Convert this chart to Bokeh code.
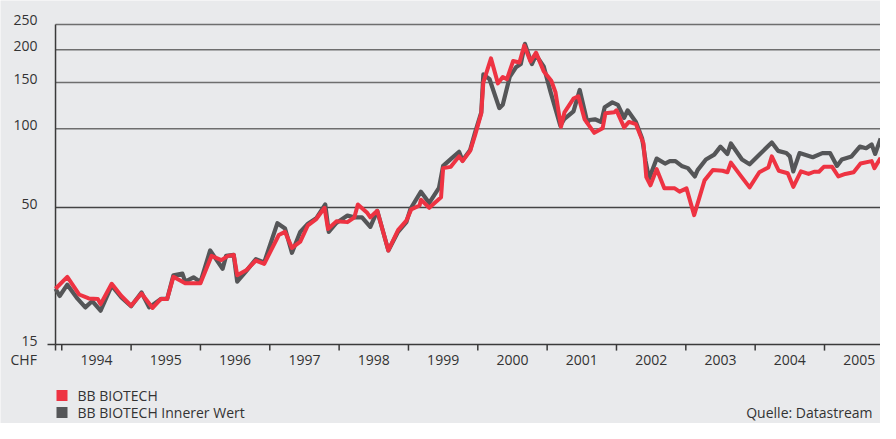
import math
from bokeh.plotting import figure
from bokeh.models import Label, Range1d, BoxAnnotation
from bokeh.core.properties import value
from bokeh.embed import file_html
from bokeh.resources import INLINE

# ---------------- data ----------------
bb_dates = [1993.91, 1994.08, 1994.25, 1994.39, 1994.52, 1994.56, 1994.72, 1994.86,
            1995.00, 1995.15, 1995.31, 1995.43, 1995.52, 1995.61, 1995.78, 1996.00,
            1996.16, 1996.30, 1996.40, 1996.48, 1996.53, 1996.66, 1996.80, 1996.92,
            1997.13, 1997.22, 1997.32, 1997.44, 1997.55, 1997.67, 1997.79, 1997.84,
            1997.96, 1998.12, 1998.22, 1998.27, 1998.40, 1998.45, 1998.55, 1998.71,
            1998.85, 1998.97, 1999.04, 1999.16, 1999.18, 1999.30, 1999.47, 1999.50,
            1999.61, 1999.73, 1999.78, 1999.89, 1999.96, 2000.05, 2000.08, 2000.19,
            2000.29, 2000.36, 2000.42, 2000.51, 2000.60, 2000.67, 2000.76, 2000.84,
            2000.95, 2001.06, 2001.12, 2001.20, 2001.25, 2001.38, 2001.45, 2001.54,
            2001.68, 2001.80, 2001.84, 2001.97, 2002.00, 2002.11, 2002.18, 2002.28,
            2002.39, 2002.43, 2002.49, 2002.58, 2002.69, 2002.84, 2002.91, 2003.01,
            2003.12, 2003.27, 2003.39, 2003.53, 2003.60, 2003.65, 2003.79, 2003.92,
            2004.06, 2004.19, 2004.24, 2004.34, 2004.47, 2004.55, 2004.66, 2004.77,
            2004.85, 2004.92, 2004.99, 2005.11, 2005.20, 2005.30, 2005.42, 2005.52,
            2005.68, 2005.72, 2005.81]
bb_values = [24.5, 27.2, 23.3, 22.5, 22.4, 21.4, 25.6, 23.0,
             21.1, 23.5, 20.7, 22.4, 22.4, 27.2, 25.7, 25.7,
             32.7, 31.5, 32.7, 33.0, 27.6, 28.8, 31.4, 30.5,
             39.3, 40.4, 35.1, 37.1, 42.8, 45.2, 49.9, 41.4,
             44.3, 44.0, 45.9, 51.4, 47.9, 45.9, 48.6, 34.3,
             41.0, 44.6, 49.2, 50.9, 53.6, 49.9, 54.7, 70.7,
             71.5, 78.4, 75.2, 82.3, 94.3, 114.2, 150.1, 185.5,
             148.9, 157.5, 154.4, 181.3, 178.9, 207.7, 180.4, 195.1,
             165.8, 152.3, 137.9, 101.7, 115.5, 130.3, 133.0, 108.6,
             96.4, 100.3, 114.5, 115.5, 117.5, 101.1, 106.1, 104.1,
             87.8, 65.3, 60.8, 70.1, 59.2, 59.2, 57.5, 59.2,
             46.8, 63.5, 69.5, 69.1, 68.2, 74.2, 66.2, 59.7,
             68.2, 71.1, 78.4, 69.1, 67.6, 60.0, 68.7, 67.2,
             68.5, 68.5, 71.5, 71.5, 65.7, 67.2, 68.2, 73.7,
             75.2, 70.7, 77.4]

nav_dates = [1993.91, 1993.97, 1994.08, 1994.23, 1994.34, 1994.44, 1994.56, 1994.72,
             1994.86, 1995.00, 1995.15, 1995.26, 1995.43, 1995.52, 1995.61, 1995.74,
             1995.78, 1995.90, 1996.00, 1996.14, 1996.32, 1996.37, 1996.48, 1996.53,
             1996.66, 1996.80, 1996.92, 1997.11, 1997.22, 1997.32, 1997.44, 1997.55,
             1997.67, 1997.80, 1997.85, 1997.96, 1998.12, 1998.22, 1998.33, 1998.45,
             1998.55, 1998.71, 1998.85, 1998.97, 1999.03, 1999.18, 1999.30, 1999.44,
             1999.50, 1999.63, 1999.73, 1999.78, 1999.89, 1999.96, 2000.05, 2000.08,
             2000.17, 2000.31, 2000.36, 2000.46, 2000.55, 2000.62, 2000.68, 2000.78,
             2000.84, 2000.95, 2001.05, 2001.19, 2001.25, 2001.38, 2001.47, 2001.58,
             2001.61, 2001.69, 2001.78, 2001.83, 2001.94, 2002.02, 2002.11, 2002.16,
             2002.28, 2002.37, 2002.42, 2002.47, 2002.58, 2002.70, 2002.77, 2002.85,
             2002.94, 2003.03, 2003.13, 2003.17, 2003.29, 2003.41, 2003.50, 2003.60,
             2003.65, 2003.81, 2003.92, 2004.07, 2004.24, 2004.33, 2004.45, 2004.50,
             2004.55, 2004.64, 2004.83, 2004.97, 2005.08, 2005.18, 2005.25, 2005.39,
             2005.51, 2005.60, 2005.68, 2005.73, 2005.81]
nav_values = [24.5, 23.0, 25.4, 22.4, 20.8, 22.0, 20.2, 25.2,
              22.7, 21.0, 23.7, 20.8, 22.4, 22.4, 27.6, 28.0,
              26.1, 27.1, 26.0, 34.3, 29.2, 32.7, 33.0, 26.1,
              28.6, 31.8, 30.9, 43.6, 41.6, 33.6, 40.4, 43.4,
              45.5, 51.4, 40.4, 43.7, 46.6, 45.9, 45.9, 42.2,
              48.6, 34.3, 40.4, 44.0, 49.5, 57.5, 52.1, 59.4,
              72.1, 77.4, 81.6, 75.6, 83.0, 96.7, 115.5, 161.1,
              154.4, 119.8, 123.3, 157.5, 171.5, 176.4, 210.6, 176.4,
              190.8, 172.9, 137.9, 102.6, 109.1, 116.5, 140.6, 105.5,
              107.9, 108.6, 106.1, 120.8, 126.0, 123.3, 110.0, 117.5,
              106.1, 91.7, 75.2, 64.4, 76.9, 73.6, 75.2, 75.2,
              72.1, 70.7, 65.7, 69.5, 76.3, 79.6, 85.4, 80.1,
              87.8, 76.3, 73.1, 80.1, 88.6, 82.3, 80.7, 78.4,
              68.7, 80.7, 77.8, 80.7, 80.7, 72.1, 76.3, 78.4,
              85.4, 84.2, 87.1, 80.1, 91.7]

years = [1994, 1995, 1996, 1997, 1998, 1999, 2000, 2001, 2002, 2003, 2004, 2005]
y_ticks = [15, 50, 100, 150, 200, 250]
grid_values = [50, 100, 150, 200, 250]
series_names = ["BB BIOTECH", "BB BIOTECH Innerer Wert"]
unit_label = "CHF"
source_label = "Quelle: Datastream"

# ---------------- styling ----------------
BG = "#E9EAEC"
RED = "#EE3342"
GREY = "#555658"
TXT = "#333333"
AXIS = "#3a3a3a"
FONT = "Open Sans"
FS = "14px"

W, H = 880, 423
axis_x = bb_dates[0]            # the value axis sits where the series start
y_min, y_max = y_ticks[0], y_ticks[-1]

p = figure(width=W, height=H,
           x_range=Range1d(1993.1165, 2005.8076), y_range=Range1d(7.50, 308.4),
           y_axis_type="log", output_backend="svg", toolbar_location=None,
           min_border=0, x_axis_location=None, y_axis_location=None)
p.background_fill_color = BG
p.border_fill_color = BG
p.outline_line_color = None
p.grid.visible = False

text_style = dict(text_font=value(FONT), text_font_size=value(FS), text_color=TXT)

# horizontal grid lines, from the value axis to the right edge
for g in grid_values:
    p.ray(x=[axis_x], y=[g], length=0, angle=0,
          line_color="#444444" if g == 50 else "#6e6e6e", line_width=1.5)

# value axis line
p.segment(x0=[axis_x], y0=[y_min], x1=[axis_x], y1=[y_max],
          line_color=AXIS, line_width=1.5)
# time axis line (with a short overhang to the left)
p.ray(x=[axis_x], y=[y_min], length=0, angle=0, line_color=AXIS, line_width=1.5)
p.ray(x=[axis_x], y=[y_min], length=8, length_units="screen", angle=math.pi,
      line_color=AXIS, line_width=1.5)
# small ticks below the time axis at the year boundaries
p.ray(x=[axis_x] + years, y=[y_min] * (len(years) + 1), length=6,
      length_units="screen", angle=-math.pi / 2, line_color=AXIS, line_width=1.5)

# year labels centred in each year
p.text(x=[y + 0.5 for y in years], y=[y_min] * len(years),
       text=[str(y) for y in years], y_offset=15,
       text_align="center", text_baseline="middle", **text_style)
# value labels
p.text(x=[axis_x] * len(y_ticks), y=y_ticks, text=[str(t) for t in y_ticks],
       x_offset=-18, y_offset=-4, text_align="right", text_baseline="middle",
       **text_style)
# unit label under the value labels
p.text(x=[axis_x], y=[y_min], text=[unit_label], x_offset=-45, y_offset=15,
       text_align="left", text_baseline="middle", **text_style)

# series
p.line(nav_dates, nav_values, line_width=4.2, line_color=GREY, line_join="round")
p.line(bb_dates, bb_values, line_width=4, line_color=RED, line_join="round")

# source note (screen units, measured from the bottom-left corner)
p.add_layout(Label(x=W - 8, y=11, x_units="screen", y_units="screen",
                   text=source_label, text_align="right", text_baseline="middle",
                   text_font=FONT, text_font_size=FS, text_color=TXT))

# legend: square swatches and names
legend_rows = [(series_names[0], RED, 28), (series_names[1], GREY, 11)]
for name, col, yc in legend_rows:
    p.add_layout(BoxAnnotation(left=56, right=67, bottom=yc - 5.5, top=yc + 5.5,
                               left_units="screen", right_units="screen",
                               bottom_units="screen", top_units="screen",
                               fill_color=col, fill_alpha=1, line_color=None))
    p.add_layout(Label(x=77, y=yc, x_units="screen", y_units="screen", text=name,
                       text_align="left", text_baseline="middle",
                       text_font=FONT, text_font_size=FS, text_color=TXT))

open("out.html", "w").write(file_html(p, INLINE))
